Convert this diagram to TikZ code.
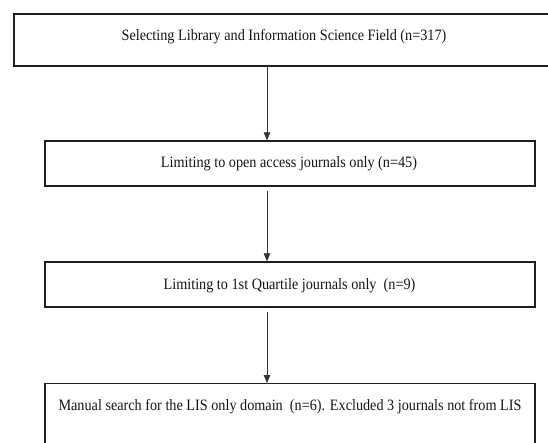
\documentclass[tikz,border=0pt]{standalone}
\usepackage{fontspec}
\setmainfont{Liberation Serif}
\usetikzlibrary{arrows.meta}
\newcommand{\narrowtext}[1]{\scalebox{0.9}[1]{#1}}
\begin{document}
\begin{tikzpicture}[x=1pt,y=-1pt,
  stagebox/.style={draw=black!88,line width=1.3pt,rectangle,inner sep=0pt,fill=none},
  stagetext/.style={inner sep=0pt,font=\fontsize{15.8pt}{18pt}\selectfont,text=black!92},
  flowarrow/.style={draw=black!80,line width=0.8pt,-{Triangle[length=8pt,width=6.5pt]}}]
\useasboundingbox[fill=white] (0,0) rectangle (548,443);
\node[stagebox,minimum width=542pt,minimum height=52pt] (b1) at (285,40) {};
\node[stagebox,minimum width=490pt,minimum height=45pt] (b2) at (290,163.5) {};
\node[stagebox,minimum width=490pt,minimum height=45pt] (b3) at (290,284.5) {};
\node[stagebox,minimum width=490pt,minimum height=80pt,anchor=north] (b4) at (290,383) {};
\node[stagetext] (t1) at (284,37) {\narrowtext{Selecting Library and Information Science Field (n=317)}};
\node[stagetext] (t2) at (289,164) {\narrowtext{Limiting to open access journals only (n=45)}};
\node[stagetext] (t3) at (289.5,286) {\narrowtext{Limiting to 1st Quartile journals only\ \ (n=9)}};
\node[stagetext] (t4) at (290,407) {\narrowtext{Manual search for the LIS only domain\ \ (n=6). Excluded 3 journals not from LIS}};
\coordinate (ax) at (267,0);
\draw[flowarrow] (ax |- b1.south) -- (ax |- b2.north);
\draw[flowarrow,shorten <=4pt] (ax |- b2.south) -- (ax |- b3.north);
\draw[flowarrow,shorten <=4pt] (ax |- b3.south) -- (ax |- b4.north);
\end{tikzpicture}
\end{document}
